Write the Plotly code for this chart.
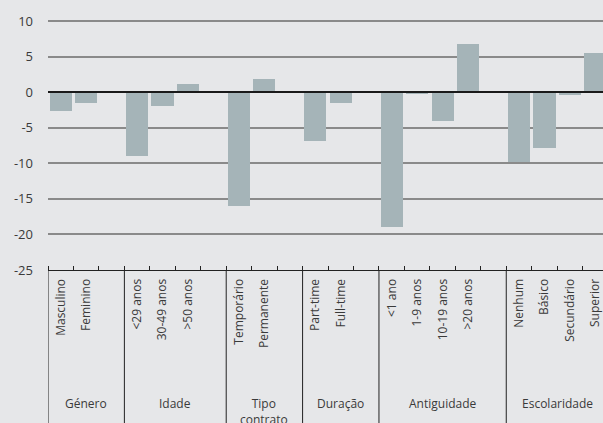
import plotly.graph_objects as go

groups = ["Género", "Idade", "Tipo<br>contrato", "Duração", "Antiguidade", "Escolaridade"]
group_categories = [
    ["Masculino", "Feminino"],
    ["<29 anos", "30-49 anos", ">50 anos"],
    ["Temporário", "Permanente"],
    ["Part-time", "Full-time"],
    ["<1 ano", "1-9 anos", "10-19 anos", ">20 anos"],
    ["Nenhum", "Básico", "Secundário", "Superior"],
]
group_values = [
    [-2.6, -1.45],
    [-9.0, -2.0, 1.2],
    [-16.0, 1.9],
    [-6.8, -1.45],
    [-19.0, -0.2, -4.0, 6.8],
    [-9.8, -7.9, -0.35, 5.5],
]
y_ticks = [10, 5, 0, -5, -10, -15, -20, -25]

BG = "#e6e7e9"
BAR = "#a5b4b8"
TXT = "#3a3a3a"

xs, labels, vals = [], [], []
bounds = [-0.5]
pos = 0
for cats, v in zip(group_categories, group_values):
    for c, val in zip(cats, v):
        xs.append(pos)
        labels.append(c)
        vals.append(val)
        pos += 1
    pos += 1  # empty slot after each group
    bounds.append(pos - 0.5)

fig = go.Figure(go.Bar(x=xs, y=vals, marker=dict(color=BAR, line=dict(width=0)),
                       width=0.87, hoverinfo="skip"))

shapes = []
for b in bounds[:-1]:
    shapes.append(dict(type="line", xref="x", yref="paper", x0=b, x1=b, y0=0, y1=-0.7,
                       line=dict(color="#222", width=1)))
annotations = []
for i, g in enumerate(groups):
    xc = (bounds[i] + bounds[i + 1]) / 2
    if i == len(groups) - 1:
        xc = (bounds[i] + 21.5) / 2
    annotations.append(dict(x=xc, y=-0.49, xref="x", yref="paper", text=g, showarrow=False,
                            yanchor="top", font=dict(size=12, color=TXT, family="Open Sans")))

fig.update_layout(
    width=603, height=423,
    margin=dict(l=48, r=0, t=19, b=153),
    paper_bgcolor=BG, plot_bgcolor=BG,
    showlegend=False,
    font=dict(family="Open Sans", color=TXT),
    shapes=shapes,
    annotations=annotations,
    bargap=0,
)
fig.update_xaxes(
    range=[-0.5, 21.3],
    tickvals=xs, ticktext=labels, tickangle=-90,
    tickfont=dict(size=12, color=TXT, family="Open Sans"),
    ticks="", ticklabelstandoff=3, ticklabeloverflow="allow",
    showgrid=False, zeroline=False,
    showline=True, linecolor="#222", linewidth=1.2,
    minor=dict(tick0=-0.5, dtick=1, ticks="inside", ticklen=4, tickcolor="#222", tickwidth=1, showgrid=False),
)
fig.update_yaxes(
    range=[-25, 10.3],
    tickvals=y_ticks, ticktext=[str(t) for t in y_ticks],
    tickfont=dict(size=13, color=TXT, family="Open Sans"),
    ticklabelstandoff=14,
    showgrid=True, gridcolor="#8a8a8a", gridwidth=1.5,
    zeroline=True, zerolinecolor="#1a1a1a", zerolinewidth=1.5,
    zerolinelayer="above traces",
    showline=False,
)
fig.write_html("out.html", config={"displayModeBar": False},
               post_script="document.body.style.margin='0';document.body.style.overflow='hidden';")
